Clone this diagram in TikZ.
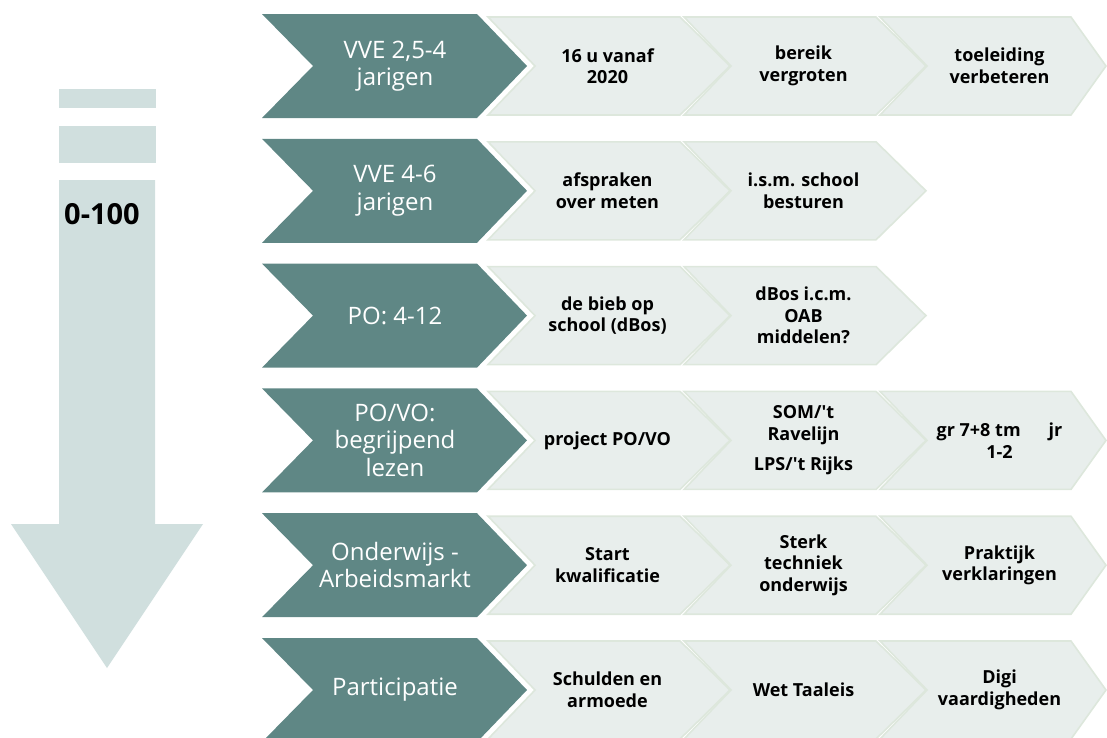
\documentclass[tikz,border=0pt]{standalone}
\usepackage{fontspec}
\setmainfont{Open Sans}
\definecolor{darkc}{HTML}{5F8785}
\definecolor{lightc}{HTML}{E8EEEC}
\definecolor{edgec}{HTML}{DDE7DC}
\definecolor{arrowc}{HTML}{D0DFDE}
% left, notch, right, tip, top, bottom, style
\newcommand\mychev[7]{\path[#7] (#1,#5) -- (#3,#5) -- (#4,{(#5+#6)/2}) -- (#3,#6) -- (#1,#6) -- (#2,{(#5+#6)/2}) -- cycle;}
\tikzset{
  darkchev/.style={fill=darkc},
  lightchev/.style={fill=lightc, draw=edgec, line width=1.6pt, line join=miter},
  headtxt/.style={align=center, text=white, inner sep=0pt, font=\fontsize{24}{27.5}\selectfont},
  itemtxt/.style={align=center, text=black, inner sep=0pt, font=\bfseries\fontsize{18}{21.6}\selectfont},
}
\begin{document}
\begin{tikzpicture}[x=1pt,y=-1pt]
\useasboundingbox (0,0) rectangle (1107,737);
% left arrow
\fill[arrowc] (59,89) rectangle (156,108);
\fill[arrowc] (59,126) rectangle (156,163);
\fill[arrowc] (59,180) -- (155,180) -- (155,524) -- (203,524) -- (107,668) -- (11,524) -- (59,524) -- cycle;
\node[inner sep=0pt, font=\bfseries\fontsize{29}{34}\selectfont] (scale) at (102,214) {0-100};
% rows
\foreach \r/\ha/\ia/\ib/\ic in {
  0/{VVE 2,5-4\\jarigen}/{16 u vanaf\\2020}/{bereik\\vergroten}/{toeleiding\\verbeteren},
  1/{VVE 4-6\\jarigen}/{afspraken\\over meten}/{i.s.m. school\\besturen}/{},
  2/{PO: 4-12}/{de bieb op\\school (dBos)}/{dBos i.c.m.\\OAB\\middelen?}/{},
  3/{PO/VO:\\begrijpend\\lezen}/{project PO/VO}/{SOM/\textquotesingle t\\Ravelijn\\[9pt]LPS/\textquotesingle t Rijks}/{gr 7+8 tm\hspace{28pt}jr\\1-2},
  4/{Onderwijs -\\Arbeidsmarkt}/{Start\\kwalificatie}/{Sterk\\techniek\\onderwijs}/{Praktijk\\verklaringen},
  5/{Participatie}/{Schulden en\\armoede}/{Wet Taaleis}/{Digi\\vaardigheden}}{
  \pgfmathsetmacro\T{14+124.8*\r}
  \pgfmathsetmacro\B{\T+104}
  \pgfmathsetmacro\Tl{\T+3}
  \pgfmathsetmacro\Bl{\T+101}
  \pgfmathsetmacro\M{\T+52}
  \mychev{262}{313}{477}{527}{\T}{\B}{darkchev}
  \node[headtxt] (h\r) at (395,\M) {\ha};
  \mychev{488}{535}{680}{730}{\Tl}{\Bl}{lightchev}
  \node[itemtxt] (a\r) at (607.5,\M) {\ia};
  \mychev{684}{731}{876}{926}{\Tl}{\Bl}{lightchev}
  \node[itemtxt] (b\r) at (803.5,\M) {\ib};
  \ifnum\r=1\else\ifnum\r=2\else
  \mychev{880}{927}{1071}{1106}{\Tl}{\Bl}{lightchev}
  \node[itemtxt] (c\r) at (999.5,\M) {\ic};
  \fi\fi
}
\end{tikzpicture}
\end{document}
